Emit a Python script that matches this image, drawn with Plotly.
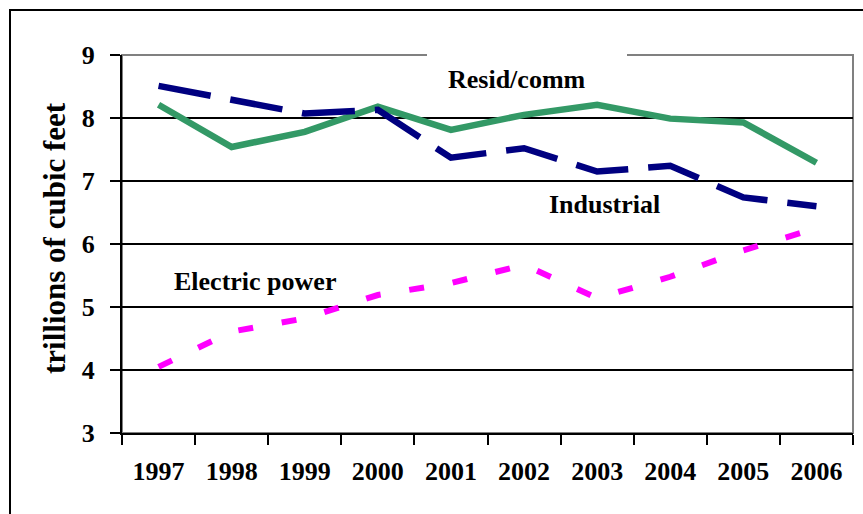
import plotly.graph_objects as go

years = ["1997", "1998", "1999", "2000", "2001", "2002", "2003", "2004", "2005", "2006"]
resid_comm = [8.21, 7.54, 7.78, 8.18, 7.81, 8.05, 8.21, 7.99, 7.93, 7.29]
industrial = [8.51, 8.30, 8.07, 8.13, 7.37, 7.52, 7.15, 7.24, 6.74, 6.60]
electric_power = [4.05, 4.61, 4.82, 5.19, 5.38, 5.67, 5.14, 5.48, 5.90, 6.25]
y_ticks = [3, 4, 5, 6, 7, 8, 9]

FONT = "Liberation Serif"
W, H = 863, 514
L, R, T, B = 122, 10, 55, 81
PW, PH = W - L - R, H - T - B


def px(x):
    return (x - L) / PW


def py(y):
    return (H - B - y) / PH


def bold(size):
    return dict(family=FONT, size=size, color="black", weight="bold")


fig = go.Figure()
fig.add_trace(go.Scatter(x=years, y=resid_comm, mode="lines", name="Resid/comm",
                         line=dict(color="#339966", width=6.5)))
fig.add_trace(go.Scatter(x=years, y=industrial, mode="lines", name="Industrial",
                         line=dict(color="#000080", width=6.5, dash="53px,20px")))
fig.add_trace(go.Scatter(x=years, y=electric_power, mode="lines", name="Electric power",
                         line=dict(color="#FF00FF", width=6, dash="15px,29px")))

shapes = [
    # plot area border (grey)
    dict(type="rect", xref="paper", yref="paper", x0=0, x1=1, y0=0, y1=1,
         line=dict(color="#808080", width=2), fillcolor="rgba(0,0,0,0)", layer="between"),
    # label background boxes
    dict(type="rect", xref="paper", yref="paper", x0=px(427), x1=px(627), y0=py(98), y1=py(52),
         line=dict(width=0), fillcolor="white", layer="between"),
    dict(type="rect", xref="paper", yref="paper", x0=px(527), x1=px(705), y0=py(232), y1=py(176),
         line=dict(width=0), fillcolor="white", layer="between"),
    # outer chart border
    dict(type="rect", xref="paper", yref="paper", x0=px(10), x1=px(1000), y0=py(700), y1=py(10),
         line=dict(color="black", width=2), fillcolor="rgba(0,0,0,0)", layer="above"),
]

annotations = [
    dict(text="Resid/comm", x=px(517), y=py(79), xref="paper", yref="paper", showarrow=False,
         font=bold(26), xanchor="center", yanchor="middle"),
    dict(text="Industrial", x=px(604), y=py(204), xref="paper", yref="paper", showarrow=False,
         font=bold(26), xanchor="center", yanchor="middle"),
    dict(text="Electric power", x=px(255), y=py(281), xref="paper", yref="paper", showarrow=False,
         font=bold(26), xanchor="center", yanchor="middle"),
    dict(text="trillions of cubic feet", x=px(55), y=py(238), xref="paper", yref="paper",
         showarrow=False, textangle=-90,
         font=bold(31), xanchor="center", yanchor="middle"),
]

fig.update_layout(
    width=W, height=H,
    margin=dict(l=L, r=R, t=T, b=B, pad=0),
    paper_bgcolor="white", plot_bgcolor="white",
    showlegend=False,
    font=bold(26),
    shapes=shapes,
    annotations=annotations,
    xaxis=dict(
        type="category", tickson="boundaries", range=[-0.5, 9.5],
        showgrid=False, zeroline=False,
        showline=True, linecolor="black", linewidth=2,
        ticks="outside", ticklen=10, tickwidth=2, tickcolor="black",
        tickfont=bold(26),
        ticklabelstandoff=14,
    ),
    yaxis=dict(
        range=[3, 9], tickvals=y_ticks, ticktext=[str(v) for v in y_ticks],
        showgrid=True, gridcolor="black", gridwidth=2, zeroline=False,
        showline=True, linecolor="black", linewidth=2,
        ticks="outside", ticklen=10, tickwidth=2, tickcolor="black",
        tickfont=bold(26),
        ticklabelstandoff=10,
    ),
)

fig.write_html("out.html", config={"displayModeBar": False},
               post_script="document.body.style.margin='0';")
